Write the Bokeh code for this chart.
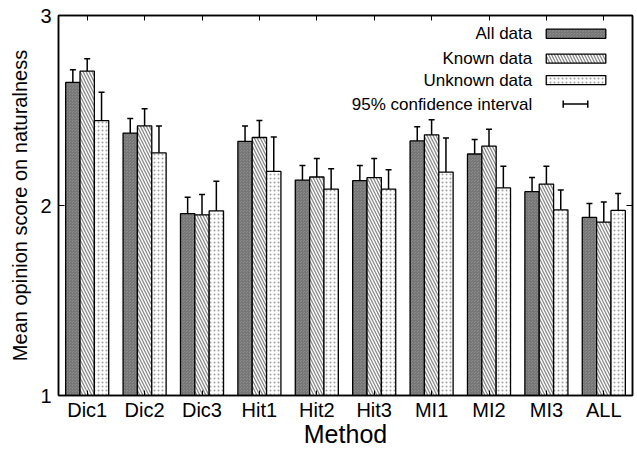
from bokeh.plotting import figure
from bokeh.models import Range1d, FixedTicker, LinearAxis, Whisker, ColumnDataSource, TeeHead
from bokeh.core.properties import value
from bokeh.embed import file_html
from bokeh.resources import INLINE

methods = ["Dic1", "Dic2", "Dic3", "Hit1", "Hit2", "Hit3", "MI1", "MI2", "MI3", "ALL"]
all_mean = [2.648, 2.381, 1.957, 2.337, 2.134, 2.131, 2.340, 2.271, 2.073, 1.937]
known_mean = [2.707, 2.419, 1.951, 2.358, 2.150, 2.147, 2.372, 2.312, 2.113, 1.913]
unknown_mean = [2.447, 2.277, 1.972, 2.180, 2.086, 2.086, 2.176, 2.093, 1.977, 1.974]
all_ci = [0.066, 0.077, 0.086, 0.081, 0.076, 0.080, 0.075, 0.077, 0.074, 0.074]
known_ci = [0.066, 0.090, 0.107, 0.089, 0.097, 0.100, 0.079, 0.089, 0.093, 0.105]
unknown_ci = [0.149, 0.141, 0.155, 0.181, 0.108, 0.102, 0.179, 0.114, 0.105, 0.089]
series_names = ["All data", "Known data", "Unknown data"]
ci_label = "95% confidence interval"
y_ticks = [1, 2, 3]
x_title = "Method"
y_title = "Mean opinion score on naturalness"

FONT = "Liberation Sans"

p = figure(width=637, height=450, x_range=Range1d(-0.5, 9.5), y_range=Range1d(1, 3),
           output_backend="svg", toolbar_location=None,
           min_border_left=58, min_border_right=5, min_border_top=15, min_border_bottom=53)
p.grid.visible = False
p.outline_line_color = "black"
p.outline_line_width = 1.5
p.background_fill_color = "white"
p.border_fill_color = "white"

# axes
xa = p.xaxis[0]
xa.ticker = FixedTicker(ticks=list(range(len(methods))))
xa.major_label_overrides = {i: m for i, m in enumerate(methods)}
xa.major_label_text_font = FONT
xa.major_label_text_font_size = "20px"
xa.major_label_text_color = "black"
xa.major_label_standoff = 3
xa.major_tick_in = 5
xa.major_tick_out = 0
xa.minor_tick_line_color = None
xa.axis_label = x_title
xa.axis_label_text_font = FONT
xa.axis_label_text_font_size = "25px"
xa.axis_label_text_font_style = "normal"
xa.axis_label_text_color = "black"
xa.axis_label_standoff = -4
xa.axis_line_width = 1.5

ya = p.yaxis[0]
ya.ticker = FixedTicker(ticks=y_ticks)
ya.major_label_text_font = FONT
ya.major_label_text_font_size = "20px"
ya.major_label_text_color = "black"
ya.major_label_standoff = 7
ya.major_tick_in = 6
ya.major_tick_out = 0
ya.minor_tick_line_color = None
ya.axis_label = y_title
ya.axis_label_text_font = FONT
ya.axis_label_text_font_size = "20px"
ya.axis_label_text_font_style = "normal"
ya.axis_label_text_color = "black"
ya.axis_label_standoff = 6
ya.axis_line_width = 1.5

ra = LinearAxis(ticker=FixedTicker(ticks=y_ticks), major_label_text_font_size="0px",
                major_label_text_color=None,
                major_tick_in=6, major_tick_out=0, minor_tick_line_color=None,
                major_label_standoff=0, axis_line_width=1.5)
p.add_layout(ra, "right")
ta = LinearAxis(ticker=FixedTicker(ticks=list(range(len(methods)))), major_label_text_font_size="0px",
                major_label_text_color=None,
                major_tick_in=5, major_tick_out=0, minor_tick_line_color=None,
                major_label_standoff=0, axis_line_width=1.5)
p.add_layout(ta, "above")

styles = [
    dict(fill_color="#8c8c8c", hatch_pattern="criss_cross", hatch_color="#777777", hatch_scale=3, hatch_weight=1),
    dict(fill_color="white", hatch_pattern="left_diagonal_line", hatch_color="#888888", hatch_scale=6, hatch_weight=1.3),
    dict(fill_color="white", hatch_pattern="dot", hatch_color="#a0a0a0", hatch_scale=4, hatch_weight=1),
]
offsets = [-0.25, 0.0, 0.25]
means = [all_mean, known_mean, unknown_mean]
cis = [all_ci, known_ci, unknown_ci]

for s in range(3):
    xs = [i + offsets[s] for i in range(len(methods))]
    src = ColumnDataSource(dict(
        x=xs, top=means[s],
        upper=[m + c for m, c in zip(means[s], cis[s])],
        lower=[m - c for m, c in zip(means[s], cis[s])],
    ))
    p.vbar(x="x", top="top", bottom=1, width=0.25, source=src,
           line_color="black", line_width=1.3, **styles[s])
    w = Whisker(source=src, base="x", upper="upper", lower="lower", dimension="height",
                line_color="black", line_width=1.5,
                upper_head=TeeHead(size=6, line_color="black", line_width=1.5),
                lower_head=TeeHead(size=6, line_color="black", line_width=1.5))
    p.add_layout(w)

# custom legend (label left of symbol)
leg_y = [2.904, 2.773, 2.660]
ci_y = 2.534
leg_text_x = 7.753
p.text(x=[leg_text_x] * 4, y=leg_y + [ci_y], text=series_names + [ci_label],
       text_font=value(FONT), text_font_size="17px", text_align="right",
       text_baseline="middle", text_color="black")
for s in range(3):
    p.quad(left=[7.997], right=[9.035], bottom=[leg_y[s] - 0.024], top=[leg_y[s] + 0.024],
           line_color="black", line_width=1.3, **styles[s])
p.segment(x0=[8.293, 8.293, 8.721], y0=[ci_y, ci_y - 0.019, ci_y - 0.019],
          x1=[8.721, 8.293, 8.721], y1=[ci_y, ci_y + 0.019, ci_y + 0.019],
          line_color="black", line_width=1.5)

open("out.html", "w").write(file_html(p, INLINE))
